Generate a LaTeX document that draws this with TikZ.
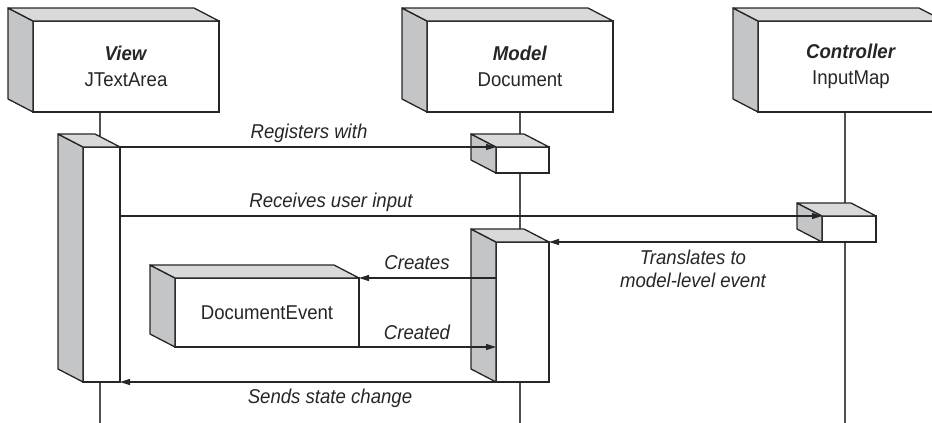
\documentclass[tikz,border=0pt]{standalone}
\usepackage{fontspec}
\setmainfont{Liberation Sans}[FakeStretch=0.93]
\usetikzlibrary{arrows.meta,positioning}
\definecolor{umlside}{RGB}{196,197,199}
\definecolor{umltop}{RGB}{216,217,219}
\definecolor{umlline}{RGB}{38,38,38}
\definecolor{umllife}{RGB}{80,80,80}
% gray side and top faces behind a front node
\newcommand{\boxdepth}[1]{%
  \filldraw[face, fill=umlside] (#1.north west) -- ++(-25,-13) -- ([shift={(-25,-13)}]#1.south west) -- (#1.south west) -- cycle;
  \filldraw[face, fill=umltop] (#1.north west) -- ++(-25,-13) -- ([shift={(-25,-13)}]#1.north east) -- (#1.north east) -- cycle;}

\begin{document}
\begin{tikzpicture}[x=1pt, y=-1pt,
    obj/.style={rectangle, draw=umlline, fill=white, line width=1.3pt, outer sep=0pt, inner sep=0pt,
      align=center, text=umlline, font=\fontsize{20}{26}\selectfont},
    act/.style={rectangle, draw=umlline, fill=white, line width=1.3pt, outer sep=0pt, inner sep=0pt},
    face/.style={draw=umlline, line width=1.3pt, line join=round},
    life/.style={umllife, line width=1.3pt},
    msg/.style={-{Triangle[length=10pt,width=6pt]}, line width=1.3pt, umlline},
    lbl/.style={font=\fontsize{20}{23}\selectfont\itshape, text=umlline, align=center}
  ]
    \useasboundingbox (0,0) rectangle (932,423);
    \clip (0,0) rectangle (932,423);

    % lifelines
    \coordinate (vtop) at (100,112);  \coordinate (vbot) at (100,423);
    \coordinate (mtop) at (520,112);  \coordinate (mbot) at (520,423);
    \coordinate (ctop) at (845,112);  \coordinate (cbot) at (845,423);
    \draw[life] (vtop) -- (vbot);
    \draw[life] (mtop) -- (mbot);
    \draw[life] (ctop) -- (cbot);

    % objects
    \node[obj, minimum width=186pt, minimum height=91pt] (view) at (126,66.5)
      {\textbf{\textit{View}}\\JTextArea};
    \node[obj, minimum width=186pt, minimum height=91pt] (model) at (520,66.5)
      {\textbf{\textit{Model}}\\Document};
    \node[obj, minimum width=186pt, minimum height=91pt] (ctrl) at (851,66.5)
      {\textbf{\textit{Controller}}\\InputMap};
    \node[obj, minimum width=184pt, minimum height=69pt] (event) at (267,312.5) {DocumentEvent};
    \boxdepth{view}
    \boxdepth{model}
    \boxdepth{ctrl}
    \boxdepth{event}

    % activations
    \node[act, minimum width=37pt, minimum height=235pt] (vact) at (101.5,264.5) {};
    \node[act, minimum width=53pt, minimum height=26pt]  (mreg) at (522.5,160) {};
    \node[act, minimum width=54pt, minimum height=26pt]  (cact) at (849,229) {};
    \node[act, minimum width=53pt, minimum height=140pt] (mact) at (522.5,312) {};
    \boxdepth{vact}
    \boxdepth{mreg}
    \boxdepth{cact}
    \boxdepth{mact}

    % messages
    \draw[msg] (vact.north east) -- (mreg.north west);
    \draw[msg] (vact.east |- cact.north west) -- (cact.north west);
    \draw[msg] (cact.south west) -- (mact.north east);
    \draw[msg] (mact.west |- event.north east) -- (event.north east);
    \draw[msg] (event.south east) -- (mact.west |- event.south east);
    \draw[msg] (mact.south west) -- (vact.south east);

    \node[lbl] (lreg)  at (309,133) {Registers with};
    \node[lbl] (lin)   at (331,202) {Receives user input};
    \node[lbl] (ltr)   at (693,269) {Translates to\\model-level event};
    \node[lbl] (lcr)   at (417,263) {Creates};
    \node[lbl] (lcd)   at (417,332) {Created};
    \node[lbl] (lsend) at (330,398) {Sends state change};
  \end{tikzpicture}
\end{document}
